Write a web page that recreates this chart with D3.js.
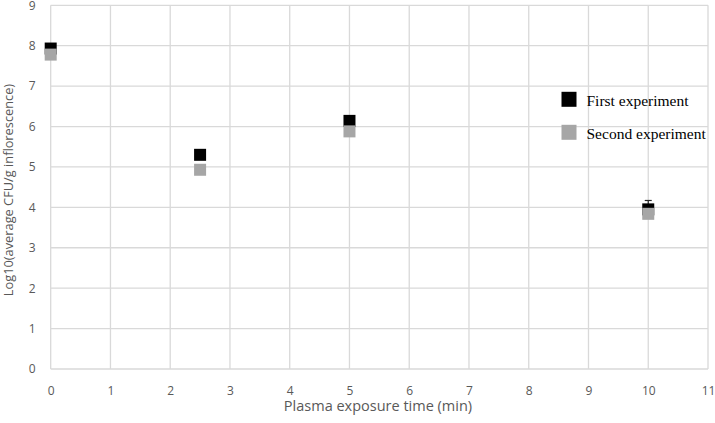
<!DOCTYPE html>
<html>
<head>
<meta charset="utf-8">
<script src="https://cdn.jsdelivr.net/npm/d3@7"></script>
<style>
  body { margin: 0; background: #fff; }
</style>
</head>
<body>
<script>
// values
series = ["First experiment", "Second experiment"]
times = [0, 2.5, 5, 10]
first = [7.93, 5.30, 6.14, 3.95]
second = [7.78, 4.93, 5.88, 3.84]
firstErr = [0, 0, 0, 0.22]
xTicks = [0, 1, 2, 3, 4, 5, 6, 7, 8, 9, 10, 11]
yTicks = [0, 1, 2, 3, 4, 5, 6, 7, 8, 9]

colors = ["#000000", "#a6a6a6"]

width = 715
height = 423
margin = {top: 5.3, right: 7, bottom: 54, left: 50.7}

x = d3.scaleLinear().domain([0, 11]).range([margin.left, width - margin.right])
y = d3.scaleLinear().domain([0, 9]).range([height - margin.bottom, margin.top])

svg = d3.select("body").append("svg")
    .attr("width", width)
    .attr("height", height)
    .style("font-family", "'Open Sans', sans-serif")

// gridlines
svg.append("g")
  .selectAll("line")
  .data(xTicks)
  .join("line")
    .attr("x1", d => x(d)).attr("x2", d => x(d))
    .attr("y1", y(0)).attr("y2", y(9))
    .attr("stroke", "#d9d9d9")
    .attr("stroke-width", 1.3)

svg.append("g")
  .selectAll("line")
  .data(yTicks)
  .join("line")
    .attr("x1", x(0)).attr("x2", x(11))
    .attr("y1", d => y(d)).attr("y2", d => y(d))
    .attr("stroke", "#d9d9d9")
    .attr("stroke-width", 1.3)

// tick labels
svg.append("g")
    .attr("transform", `translate(0,${y(0) + 26})`)
    .call(d3.axisBottom(x).tickValues(xTicks).tickSize(0).tickPadding(0))
    .call(g => g.select(".domain").remove())
    .call(g => g.selectAll("text").attr("fill", "#595959").attr("font-size", 12).attr("dy", 0).attr("font-family", "'Open Sans', sans-serif"))

svg.append("g")
    .attr("transform", `translate(${x(0) - 15},0)`)
    .call(d3.axisLeft(y).tickValues(yTicks).tickSize(0).tickPadding(0))
    .call(g => g.select(".domain").remove())
    .call(g => g.selectAll("text").attr("fill", "#595959").attr("font-size", 12).attr("font-family", "'Open Sans', sans-serif"))

// axis titles
svg.append("text")
    .attr("x", 378)
    .attr("y", 411)
    .attr("text-anchor", "middle")
    .attr("fill", "#595959")
    .attr("font-size", 14.5)
    .text("Plasma exposure time (min)")

svg.append("text")
    .attr("transform", `translate(13,190) rotate(-90)`)
    .attr("text-anchor", "middle")
    .attr("fill", "#595959")
    .attr("font-size", 12.8)
    .text("Log10(average CFU/g inflorescence)")

// error bars for first experiment
const errs = svg.append("g")
  .selectAll("g")
  .data(times.map((t, i) => ({t: t, v: first[i], e: firstErr[i]})).filter(d => d.e > 0))
  .join("g")
    .attr("stroke", "#262626")
    .attr("stroke-width", 1.2)

errs.append("line")
    .attr("x1", d => x(d.t)).attr("x2", d => x(d.t))
    .attr("y1", d => y(d.v - d.e)).attr("y2", d => y(d.v + d.e))
errs.append("line")
    .attr("x1", d => x(d.t) - 3.5).attr("x2", d => x(d.t) + 3.5)
    .attr("y1", d => y(d.v + d.e)).attr("y2", d => y(d.v + d.e))
errs.append("line")
    .attr("x1", d => x(d.t) - 3.5).attr("x2", d => x(d.t) + 3.5)
    .attr("y1", d => y(d.v - d.e)).attr("y2", d => y(d.v - d.e))

// markers, second series drawn over first
const m = 12
;[first, second].forEach((vals, k) => {
  svg.append("g")
    .selectAll("rect")
    .data(times.map((t, i) => [t, vals[i]]))
    .join("rect")
      .attr("x", d => x(d[0]) - m / 2)
      .attr("y", d => y(d[1]) - m / 2)
      .attr("width", m)
      .attr("height", m)
      .attr("fill", colors[k])
})

// legend
const legend = svg.append("g")
  .selectAll("g")
  .data(series)
  .join("g")
    .attr("transform", (d, i) => `translate(561.5,${91.8 + i * 33})`)

legend.append("rect")
    .attr("width", 15)
    .attr("height", 15)
    .attr("fill", (d, i) => colors[i])

legend.append("text")
    .attr("x", 25)
    .attr("y", 14.5)
    .attr("font-family", "'Liberation Serif', 'Times New Roman', serif")
    .attr("font-size", 15.5)
    .attr("fill", "#000")
    .text(d => d)
</script>
</body>
</html>
